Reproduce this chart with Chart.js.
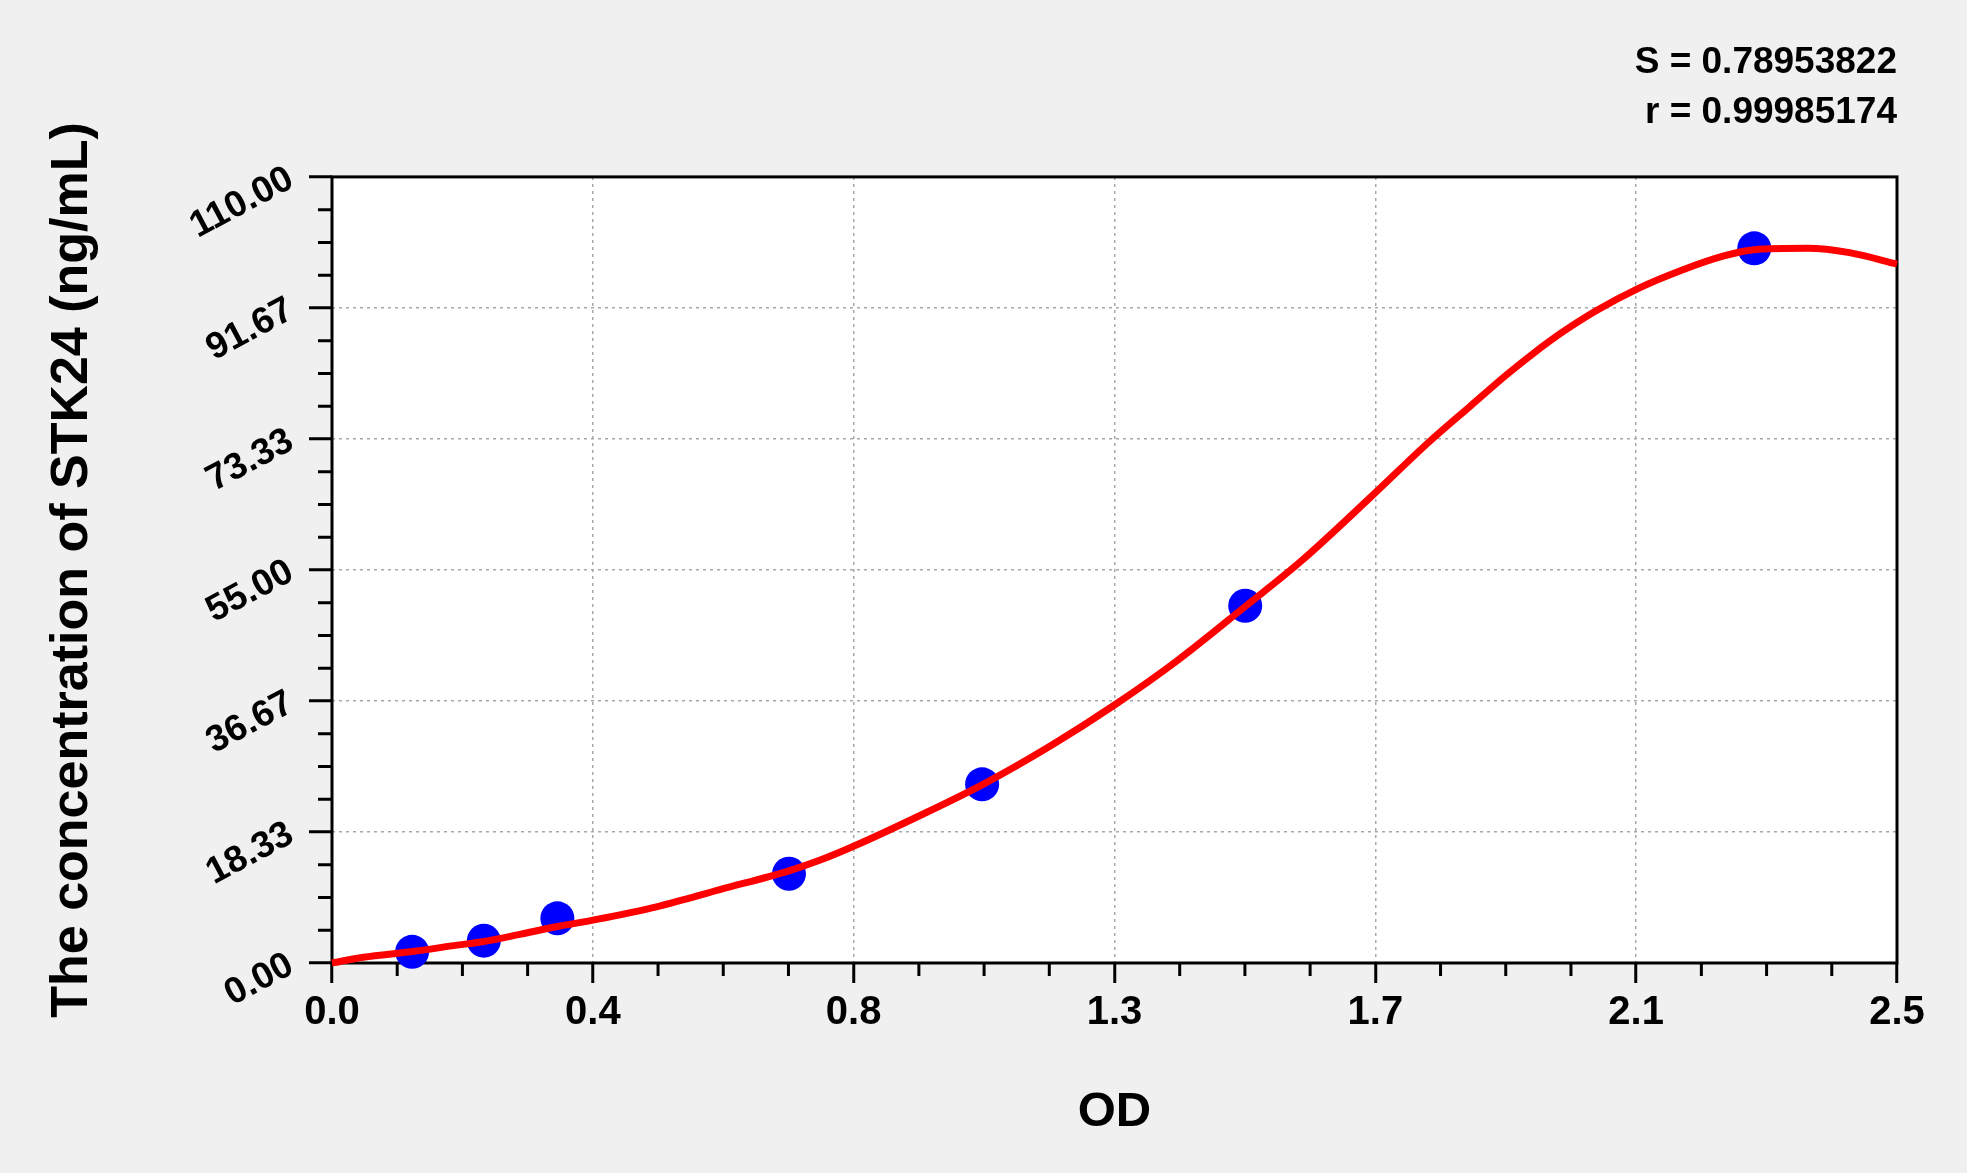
<!DOCTYPE html>
<html lang="en">
<head>
    <meta charset="UTF-8">
    <title>STK24 standard curve</title>
    <style>
        html, body { margin: 0; padding: 0; background: #f0f0f0; }
        #wrap { width: 1967px; height: 1173px; position: relative; }
    </style>
</head>
<body>
    <div id="wrap">
        <canvas id="myChart"></canvas>
    </div>

    <script src="https://cdn.jsdelivr.net/npm/chart.js"></script>

    <script>
        // standard points (OD vs concentration)
        let odValues   = [0.128, 0.2425, 0.360, 0.730, 1.0385, 1.4588, 2.272];
        let concValues = [1.5625, 3.125, 6.25, 12.5, 25, 50, 100];

        // fitted curve
        let curveOD   = [0.000, 0.050, 0.128, 0.200, 0.2425, 0.300, 0.360, 0.4167, 0.520, 0.621,
                         0.730, 0.780, 0.835, 0.936, 1.040, 1.150, 1.250, 1.350, 1.459, 1.549,
                         1.663, 1.751, 1.818, 1.879, 1.919, 1.966, 2.020, 2.087, 2.155, 2.222,
                         2.272, 2.357, 2.424, 2.500];
        let curveConc = [0.0, 0.8, 1.6, 2.5, 3.0, 4.0, 5.1, 6.0, 7.9, 10.3,
                         12.9, 14.4, 16.4, 20.5, 25.0, 30.5, 36.1, 42.3, 49.9, 56.3,
                         65.5, 72.8, 77.9, 82.5, 85.3, 88.3, 91.3, 94.4, 96.9, 98.9,
                         99.8, 100.0, 99.4, 97.8];

        let xTickLabels = ['0.0', '0.4', '0.8', '1.3', '1.7', '2.1', '2.5'];
        let yTickLabels = ['0.00', '18.33', '36.67', '55.00', '73.33', '91.67', '110.00'];

        let statLines = ['S = 0.78953822', 'r = 0.99985174'];

        const FONT = "'Liberation Sans', Arial, sans-serif";

        // white plot area, frame and minor ticks
        const frame = {
            id: 'frame',
            beforeDraw(chart) {
                const a = chart.chartArea, c = chart.ctx;
                c.save();
                c.fillStyle = '#ffffff';
                c.fillRect(a.left, a.top, a.right - a.left, a.bottom - a.top);
                c.restore();
            },
            beforeDatasetsDraw(chart) {
                const a = chart.chartArea, c = chart.ctx;
                c.save();
                c.strokeStyle = '#000';
                c.lineWidth = 3;
                c.strokeRect(a.left, a.top, a.right - a.left, a.bottom - a.top);

                // minor ticks, 3 between each pair of major ticks
                c.beginPath();
                const xs = chart.scales.x, ys = chart.scales.y;
                for (let i = 0; i < xs.ticks.length - 1; i++) {
                    const v0 = xs.ticks[i].value, v1 = xs.ticks[i + 1].value;
                    for (let k = 1; k < 4; k++) {
                        const px = xs.getPixelForValue(v0 + (v1 - v0) * k / 4);
                        c.moveTo(px, a.bottom);
                        c.lineTo(px, a.bottom + 13);
                    }
                }
                for (let i = 0; i < ys.ticks.length - 1; i++) {
                    const v0 = ys.ticks[i].value, v1 = ys.ticks[i + 1].value;
                    for (let k = 1; k < 4; k++) {
                        const py = ys.getPixelForValue(v0 + (v1 - v0) * k / 4);
                        c.moveTo(a.left, py);
                        c.lineTo(a.left - 14, py);
                    }
                }
                c.stroke();
                c.restore();
            }
        };

        const ctx = document.getElementById('myChart');

        let datasets = [
            {
                label: 'fit',
                data: curveOD.map((x, i) => ({ x: x, y: curveConc[i] })),
                showLine: true,
                borderColor: '#ff0000',
                borderWidth: 7,
                pointRadius: 0,
                cubicInterpolationMode: 'monotone',
                order: 0,
                clip: 4
            },
            {
                label: 'standards',
                data: odValues.map((x, i) => ({ x: x, y: concValues[i] })),
                backgroundColor: '#0000ff',
                borderWidth: 0,
                pointRadius: 17,
                order: 1,
                clip: false
            }
        ];

        let options = {
            responsive: true,
            maintainAspectRatio: false,
            animation: false,
            layout: { padding: { top: 38, right: 70, left: 0, bottom: 0 } },
            plugins: {
                legend: { display: false },
                tooltip: { enabled: false },
                title: {
                    display: true,
                    text: statLines,
                    align: 'end',
                    color: '#000',
                    font: { family: FONT, size: 37, weight: 'bold', lineHeight: 1.35 },
                    padding: { top: 0, bottom: 39 }
                }
            },
            scales: {
                x: {
                    type: 'linear',
                    min: 0,
                    max: 2.5,
                    afterFit: s => { s.height = 210; },
                    border: { display: false, dash: [3, 4] },
                    grid: {
                        color: '#a8a8a8',
                        lineWidth: 1.5,
                        tickLength: 20,
                        tickColor: '#000',
                        tickWidth: 3
                    },
                    ticks: {
                        count: 7,
                        color: '#000',
                        padding: 6,
                        maxRotation: 0,
                        font: { family: FONT, size: 40, weight: 'bold' },
                        callback: (v, i) => xTickLabels[i]
                    },
                    title: {
                        display: true,
                        text: 'OD',
                        color: '#000',
                        font: { family: FONT, size: 49, weight: 'bold', lineHeight: 1.2 },
                        padding: { top: 0, bottom: 31 }
                    }
                },
                y: {
                    type: 'linear',
                    min: 0,
                    max: 110,
                    afterFit: s => { s.width = 332; },
                    border: { display: false, dash: [3, 4] },
                    grid: {
                        color: '#a8a8a8',
                        lineWidth: 1.5,
                        tickLength: 23,
                        tickColor: '#000',
                        tickWidth: 3
                    },
                    ticks: {
                        count: 7,
                        color: '#000',
                        padding: 18,
                        minRotation: 28,
                        maxRotation: 28,
                        font: { family: FONT, size: 37, weight: 'bold' },
                        callback: (v, i) => yTickLabels[i]
                    },
                    title: {
                        display: true,
                        text: 'The concentration of STK24 (ng/mL)',
                        color: '#000',
                        font: { family: FONT, size: 52, weight: 'bold', lineHeight: 1.2 },
                        padding: { top: 41, bottom: 0 }
                    }
                }
            }
        };

        let chart = new Chart(ctx, {
            type: 'scatter',
            data: { datasets: datasets },
            options: options,
            plugins: [frame]
        });
    </script>
</body>
</html>
